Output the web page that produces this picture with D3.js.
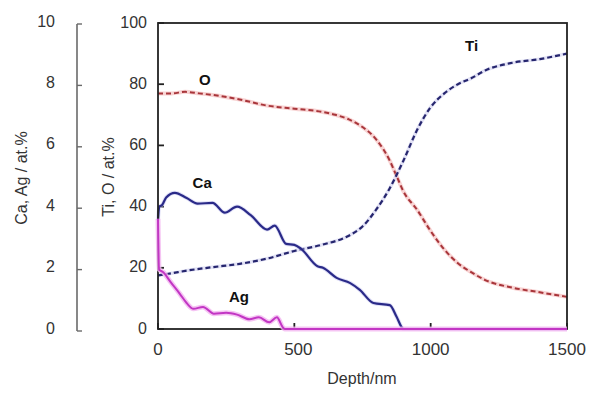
<!DOCTYPE html>
<html><head><meta charset="utf-8">
<script src="https://cdn.jsdelivr.net/npm/d3@7"></script>
<style>body{margin:0;background:#fff}svg{display:block;font-family:"Liberation Sans",Arial,sans-serif}</style>
</head><body><svg id="c" width="600" height="402"></svg>
<script>
// ---- data ----
const xTicks = [0, 500, 1000, 1500];
const yTicks = [0, 20, 40, 60, 80, 100];
const y2Ticks = [0, 2, 4, 6, 8, 10];

const tiDepth = [0,50,100,200,300,400,500,600,700,750,800,850,900,950,1000,1050,1100,1150,1200,1300,1400,1500];
const tiVal   = [17.5,18.2,19,20.2,21.3,23,25.5,27.5,30.5,33.5,39,46,55,65,72.5,77,80,82,84.5,87,88.2,90];

const oDepth = [0,50,100,150,200,300,400,500,600,650,700,750,800,850,875,900,950,1000,1050,1100,1150,1200,1300,1400,1500];
const oVal   = [77,77,77.5,77,76.5,75,73,72,71,70,68.5,66,62,55,50,45,39,32,26,21.5,18.5,16,13.5,12,10.5];

const caDepth = [0,5,15,30,62,105,145,200,245,290,340,400,428,470,500,525,585,605,655,705,740,790,850,875,897,900,1500];
const caVal   = [3.55,4.0,4.05,4.3,4.45,4.28,4.1,4.12,3.8,4.0,3.72,3.25,3.38,2.78,2.75,2.62,2.05,2.0,1.67,1.5,1.28,0.85,0.78,0.4,0.02,0,0];

const agDepth = [0,4,20,45,80,105,130,165,205,250,290,335,370,408,436,458,465,1500];
const agVal   = [3.6,1.95,1.85,1.55,1.15,0.85,0.66,0.72,0.5,0.53,0.47,0.32,0.38,0.22,0.38,0.05,0,0];

// series labels: main-axis labels (O, Ti) and secondary-axis labels (Ca, Ag)
const mainLabels = [
  {t:"O", d:172, v:81.5},
  {t:"Ti", d:1150, v:92.5}
];
const secLabels = [
  {t:"Ca", d:162, v:4.77},
  {t:"Ag", d:297, v:1.05}
];

// ---- layout ----
const svg = d3.select("#c");
const L = 158, R = 567, T = 23, B = 329;
const x = d3.scaleLinear().domain([0,1500]).range([L,R]);
const y = d3.scaleLinear().domain([0,100]).range([B,T]);
const y2 = d3.scaleLinear().domain([0,10]).range([B,T]);
const y2axis = d3.scaleLinear().domain([0,10]).range([331,24]);

const zip = (a,b)=>a.map((d,i)=>[d,b[i]]);
const line1 = d3.line().x(d=>x(d[0])).y(d=>y(d[1])).curve(d3.curveMonotoneX);
const line2 = d3.line().x(d=>x(d[0])).y(d=>y2(d[1])).curve(d3.curveMonotoneX);

// secondary axis (Ca, Ag)
const g2 = svg.append("g").attr("transform","translate(77,0)");
g2.append("line").attr("y1",y2axis(10)).attr("y2",y2axis(0)).attr("stroke","#6a6a6a").attr("stroke-width",1.6);
g2.selectAll("line.t").data(y2Ticks).join("line").attr("class","t")
  .attr("x1",0).attr("x2",5).attr("y1",d=>y2axis(d)).attr("y2",d=>y2axis(d))
  .attr("stroke","#6a6a6a").attr("stroke-width",1.4);
g2.selectAll("text").data(y2Ticks).join("text")
  .attr("x",-22).attr("y",d=>y2axis(d)-3).attr("dy","0.35em").attr("text-anchor","end")
  .attr("font-size",16).attr("fill","#333").text(d=>d);

// main y axis ticks/labels
const gy = svg.append("g");
gy.selectAll("line").data(yTicks).join("line")
  .attr("x1",L).attr("x2",L+6).attr("y1",d=>y(d)).attr("y2",d=>y(d))
  .attr("stroke","#222").attr("stroke-width",1.8);
gy.selectAll("text").data(yTicks).join("text")
  .attr("x",L-11).attr("y",d=>y(d)-1).attr("dy","0.35em").attr("text-anchor","end")
  .attr("font-size",16).attr("fill","#333").text(d=>d);

// x ticks/labels
const gx = svg.append("g");
gx.selectAll("line").data(xTicks).join("line")
  .attr("x1",d=>x(d)).attr("x2",d=>x(d)).attr("y1",B).attr("y2",B-6)
  .attr("stroke","#222").attr("stroke-width",1.8);
gx.selectAll("text").data(xTicks).join("text")
  .attr("x",d=>x(d)+(d===500?4:0)).attr("y",B+26).attr("text-anchor","middle")
  .attr("font-size",17).attr("fill","#333").text(d=>d);

// axis titles
svg.append("text").attr("x",362).attr("y",384).attr("text-anchor","middle")
  .attr("font-size",16).attr("fill","#333").text("Depth/nm");
svg.append("text").attr("transform","translate(27,178) rotate(-90)").attr("text-anchor","middle")
  .attr("font-size",16).attr("fill","#333").text("Ca, Ag / at.%");
svg.append("text").attr("transform","translate(114,177) rotate(-90)").attr("text-anchor","middle")
  .attr("font-size",16).attr("fill","#333").text("Ti, O / at.%");

// series
// O (red dashed, pink halo)
svg.append("path").datum(zip(oDepth,oVal)).attr("d",line1).attr("fill","none")
  .attr("stroke","#f4b8b8").attr("stroke-width",4).attr("opacity",0.6);
svg.append("path").datum(zip(oDepth,oVal)).attr("d",line1).attr("fill","none")
  .attr("stroke","#a8353a").attr("stroke-width",2).attr("stroke-dasharray","5,3");
// Ti (navy dashed)
svg.append("path").datum(zip(tiDepth,tiVal)).attr("d",line1).attr("fill","none")
  .attr("stroke","#c8c8ee").attr("stroke-width",3.5).attr("opacity",0.5);
svg.append("path").datum(zip(tiDepth,tiVal)).attr("d",line1).attr("fill","none")
  .attr("stroke","#26266e").attr("stroke-width",2.2).attr("stroke-dasharray","5,3");
// Ca (navy solid)
svg.append("path").datum(zip(caDepth,caVal)).attr("d",line2).attr("fill","none")
  .attr("stroke","#c0c0f0").attr("stroke-width",4).attr("opacity",0.5);
svg.append("path").datum(zip(caDepth,caVal)).attr("d",line2).attr("fill","none")
  .attr("stroke","#2a2a88").attr("stroke-width",2.2);

// frame
svg.append("rect").attr("x",L).attr("y",T).attr("width",R-L).attr("height",B-T)
  .attr("fill","none").attr("stroke","#222").attr("stroke-width",1.8);

// Ag (magenta, glow) drawn over bottom axis
svg.append("path").datum(zip(agDepth,agVal)).attr("d",line2).attr("fill","none")
  .attr("stroke","#f3b5f0").attr("stroke-width",5).attr("opacity",0.8);
svg.append("path").datum(zip(agDepth,agVal)).attr("d",line2).attr("fill","none")
  .attr("stroke","#c236c4").attr("stroke-width",2);

// series labels
const labStyle = s => s.attr("text-anchor","middle").attr("dy","0.35em")
  .attr("font-size",15).attr("font-weight","bold").attr("fill","#111").text(d=>d.t);
svg.selectAll("text.lab1").data(mainLabels).join("text").attr("class","lab1")
  .attr("x",d=>x(d.d)).attr("y",d=>y(d.v)).call(labStyle);
svg.selectAll("text.lab2").data(secLabels).join("text").attr("class","lab2")
  .attr("x",d=>x(d.d)).attr("y",d=>y2(d.v)).call(labStyle);
</script></body></html>
